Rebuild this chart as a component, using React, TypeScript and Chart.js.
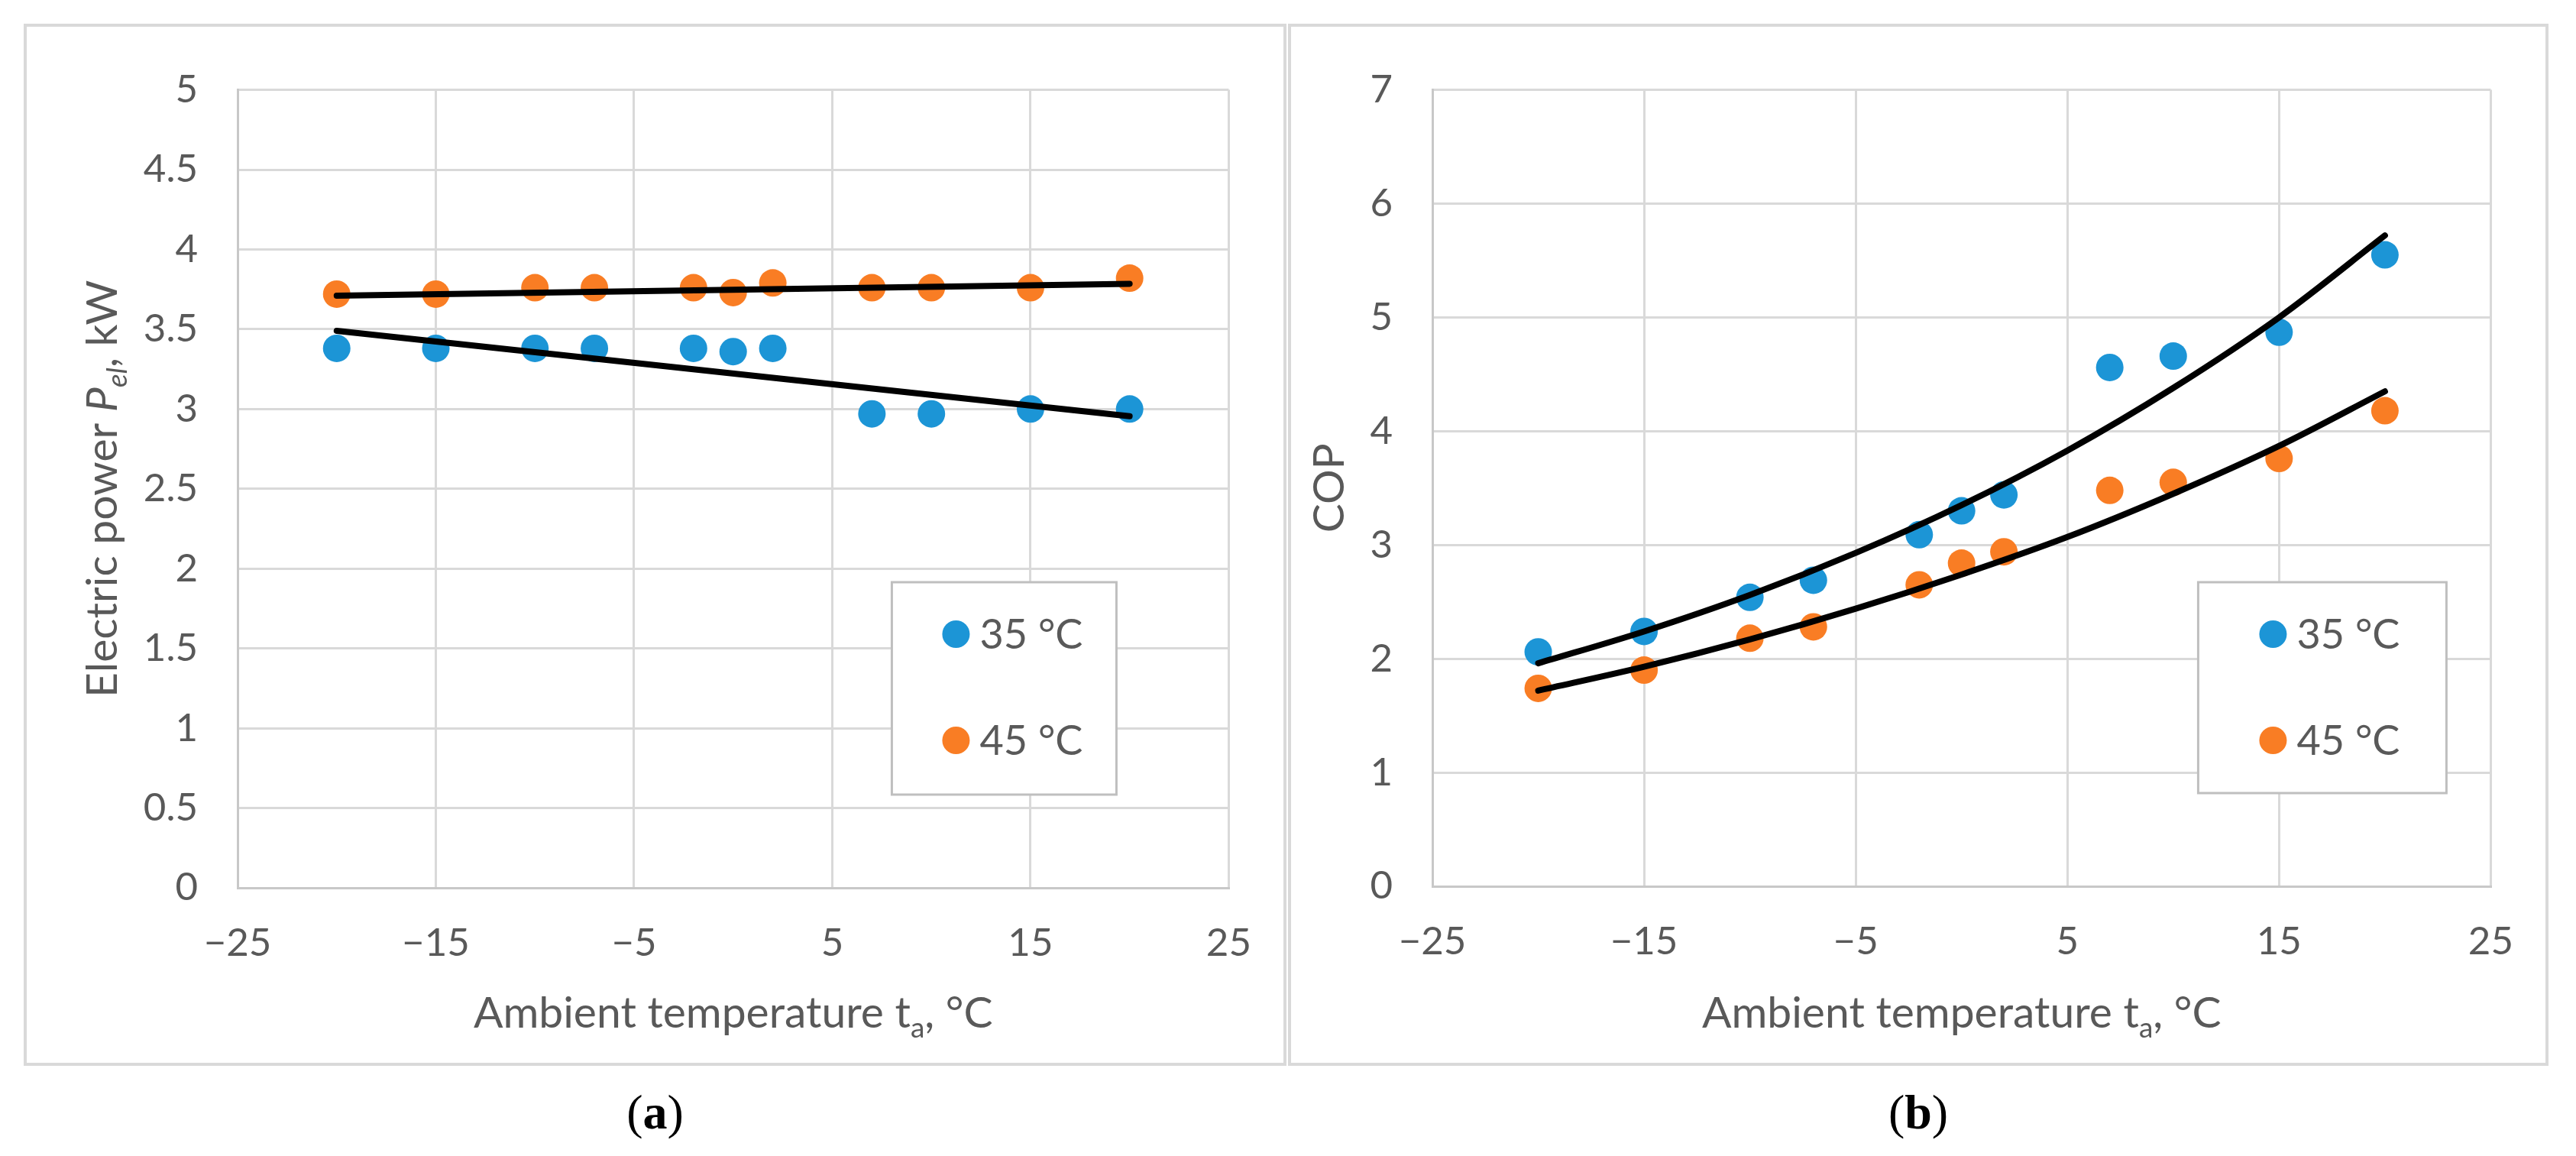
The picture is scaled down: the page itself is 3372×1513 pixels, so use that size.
import React, { useEffect, useRef } from 'react';
import { Chart, registerables } from 'chart.js';

Chart.register(...registerables);

// ---- data ----
const temps = [-20, -15, -10, -7, -2, 0, 2, 7, 10, 15, 20];
const seriesLabels = ['35 °C', '45 °C'];

// (a) electric power, kW
const power35 = [3.38, 3.38, 3.38, 3.38, 3.38, 3.36, 3.38, 2.97, 2.97, 3.0, 3.0];
const power45 = [3.72, 3.72, 3.76, 3.76, 3.76, 3.73, 3.79, 3.76, 3.76, 3.76, 3.82];
const powerTrendX = [-20, 20];
const powerTrend35 = [3.49, 2.955];
const powerTrend45 = [3.71, 3.785];

// (b) COP
const cop35 = [2.06, 2.24, 2.54, 2.69, 3.09, 3.3, 3.44, 4.56, 4.66, 4.87, 5.55];
const cop45 = [1.74, 1.9, 2.18, 2.28, 2.65, 2.84, 2.94, 3.48, 3.55, 3.76, 4.18];
const copTrendX = [-20, -15, -10, -5, 0, 5, 10, 15, 20];
const copTrend35 = [1.96, 2.24, 2.56, 2.93, 3.35, 3.83, 4.38, 5.0, 5.72];
const copTrend45 = [1.72, 1.93, 2.17, 2.44, 2.74, 3.07, 3.45, 3.87, 4.35];

const xMin = -25;
const xMax = 25;
const xStep = 10;

const FONT = "Lato, 'Open Sans', sans-serif";
const TEXT = '#595959';
const BLUE = '#1C95D6';
const ORANGE = '#F97D24';
const GRID = '#D9D9D9';

type Run = { text: string; italic?: boolean; sub?: boolean };

const pts = (xs: number[], ys: number[]) => xs.map((x, i) => ({ x, y: ys[i] }));

function drawRuns(ctx: CanvasRenderingContext2D, runs: Run[], size: number, cx: number, baseline: number) {
  const fontFor = (r: Run) =>
    `${r.italic ? 'italic ' : ''}${r.sub ? Math.round(size * 0.65) : size}px ${FONT}`;
  let total = 0;
  const widths = runs.map((r) => {
    ctx.font = fontFor(r);
    const w = ctx.measureText(r.text).width;
    total += w;
    return w;
  });
  let x = cx - total / 2;
  ctx.textAlign = 'left';
  ctx.textBaseline = 'alphabetic';
  runs.forEach((r, i) => {
    ctx.font = fontFor(r);
    ctx.fillText(r.text, x, baseline + (r.sub ? size * 0.22 : 0));
    x += widths[i];
  });
}

type PanelCfg = {
  left: number;
  width: number;
  yMax: number;
  yStep: number;
  areaLeft: number;
  padRight: number;
  xHeight: number;
  yTitle: Run[];
  yTitleX: number;
  xTitleY: number;
  legend: { right: number; bottom: number; w: number; h: number; markerX: number };
  caption: string;
  scatter: number[][];
  trendX: number[];
  trends: number[][];
};

const xTitle: Run[] = [
  { text: 'Ambient temperature t' },
  { text: 'a', sub: true },
  { text: ', °C' },
];

function decorPlugin(cfg: PanelCfg) {
  return {
    id: 'panelDecor',
    afterDraw(chart: any) {
      const { ctx, chartArea: a } = chart;
      ctx.save();
      ctx.fillStyle = TEXT;
      drawRuns(ctx, xTitle, 57, (a.left + a.right) / 2, cfg.xTitleY);

      ctx.save();
      ctx.translate(cfg.yTitleX, (a.top + a.bottom) / 2);
      ctx.rotate(-Math.PI / 2);
      drawRuns(ctx, cfg.yTitle, 57, 0, 0);
      ctx.restore();

      // legend box inside the plot
      const L = cfg.legend;
      const bx = a.right - L.right - L.w;
      const by = a.bottom - L.bottom - L.h;
      ctx.fillStyle = '#ffffff';
      ctx.fillRect(bx, by, L.w, L.h);
      ctx.strokeStyle = '#BFBFBF';
      ctx.lineWidth = 3;
      ctx.strokeRect(bx, by, L.w, L.h);

      const items = chart.data.datasets.filter((d: any) => seriesLabels.includes(d.label));
      items.forEach((d: any, i: number) => {
        const cy = by + 68 + i * 139;
        const mx = bx + L.markerX;
        ctx.beginPath();
        ctx.arc(mx, cy, 18, 0, Math.PI * 2);
        ctx.fillStyle = d.backgroundColor;
        ctx.fill();
        ctx.fillStyle = TEXT;
        ctx.font = `54px ${FONT}`;
        ctx.textAlign = 'left';
        ctx.textBaseline = 'alphabetic';
        ctx.fillText(d.label, mx + 31, cy + 19);
      });
      ctx.restore();
    },
  };
}

const fmtX = (v: number | string) => {
  const n = Number(v);
  return n < 0 ? '\u2212' + Math.abs(n) : String(n);
};

function Panel({ cfg }: { cfg: PanelCfg }) {
  const ref = useRef<HTMLCanvasElement>(null);
  const innerW = cfg.width - 8;
  const innerH = 1356;

  useEffect(() => {
    if (!ref.current) return;
    const colors = [BLUE, ORANGE];
    const datasets: any[] = [];
    cfg.trends.forEach((t) => {
      datasets.push({
        type: 'line',
        label: 'trend',
        data: pts(cfg.trendX, t),
        borderColor: '#000000',
        borderWidth: 8,
        borderCapStyle: 'round',
        pointRadius: 0,
        fill: false,
        cubicInterpolationMode: 'monotone',
        order: 0,
      });
    });
    cfg.scatter.forEach((s, i) => {
      datasets.push({
        type: 'scatter',
        label: seriesLabels[i],
        data: pts(temps, s),
        backgroundColor: colors[i],
        borderWidth: 0,
        pointRadius: 18,
        pointHoverRadius: 18,
        order: 1,
      });
    });

    const chart = new Chart(ref.current, {
      type: 'scatter',
      data: { datasets },
      plugins: [decorPlugin(cfg)],
      options: {
        animation: false,
        responsive: false,
        devicePixelRatio: 1,
        layout: { padding: { left: 0, top: 67, right: cfg.padRight, bottom: 0 } },
        plugins: { legend: { display: false }, tooltip: { enabled: false } },
        scales: {
          x: {
            type: 'linear',
            min: xMin,
            max: xMax,
            afterFit: (s: any) => {
              s.height = cfg.xHeight;
            },
            ticks: {
              stepSize: xStep,
              color: TEXT,
              padding: 42,
              font: { family: FONT, size: 51 },
              callback: fmtX,
            },
            grid: { color: GRID, lineWidth: 3, drawTicks: false },
            border: { color: '#C8C8C8', width: 3 },
          },
          y: {
            type: 'linear',
            min: 0,
            max: cfg.yMax,
            afterFit: (s: any) => {
              s.width = cfg.areaLeft;
            },
            ticks: {
              stepSize: cfg.yStep,
              color: TEXT,
              padding: 52,
              font: { family: FONT, size: 51 },
              callback: (v: any) => String(Number(v)),
            },
            grid: { color: GRID, lineWidth: 3, drawTicks: false },
            border: { color: '#C8C8C8', width: 3 },
          },
        },
      } as any,
    });
    return () => chart.destroy();
  }, []);

  return (
    <>
      <div
        style={{
          position: 'absolute',
          left: cfg.left,
          top: 31,
          width: cfg.width,
          height: 1364,
          border: '4px solid #D9D9D9',
          boxSizing: 'border-box',
          background: '#fff',
        }}
      >
        <canvas ref={ref} width={innerW} height={innerH} style={{ display: 'block' }} />
      </div>
      <div
        style={{
          position: 'absolute',
          left: cfg.left,
          top: 1424,
          width: cfg.width,
          textAlign: 'center',
          fontFamily: "'Liberation Serif', 'DejaVu Serif', serif",
          fontSize: 64,
          lineHeight: '64px',
          color: '#000',
        }}
      >
        (<b>{cfg.caption}</b>)
      </div>
    </>
  );
}

const panelA: PanelCfg = {
  left: 31,
  width: 1653,
  yMax: 5,
  yStep: 0.5,
  areaLeft: 276,
  padRight: 69,
  xHeight: 229,
  yTitle: [
    { text: 'Electric power ' },
    { text: 'P', italic: true },
    { text: 'el', italic: true, sub: true },
    { text: ', kW' },
  ],
  yTitleX: 118,
  xTitleY: 1310,
  legend: { right: 147, bottom: 122, w: 294, h: 278, markerX: 84 },
  caption: 'a',
  scatter: [power35, power45],
  trendX: powerTrendX,
  trends: [powerTrend35, powerTrend45],
};

const panelB: PanelCfg = {
  left: 1686,
  width: 1650,
  yMax: 7,
  yStep: 1,
  areaLeft: 185,
  padRight: 71,
  xHeight: 231,
  yTitle: [{ text: 'COP' }],
  yTitleX: 69,
  xTitleY: 1310,
  legend: { right: 58, bottom: 122, w: 325, h: 276, markerX: 98 },
  caption: 'b',
  scatter: [cop35, cop45],
  trendX: copTrendX,
  trends: [copTrend35, copTrend45],
};

export default function App() {
  return (
    <div
      style={{
        position: 'absolute',
        left: 0,
        top: 0,
        width: 3372,
        height: 1513,
        background: '#ffffff',
        overflow: 'hidden',
      }}
    >
      <Panel cfg={panelA} />
      <Panel cfg={panelB} />
    </div>
  );
}
